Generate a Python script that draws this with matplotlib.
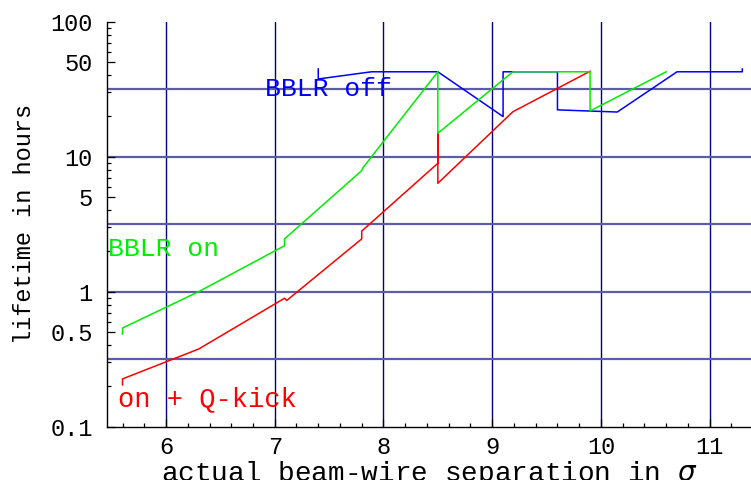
import numpy as np
import matplotlib
matplotlib.use('Agg')
import matplotlib.pyplot as plt
from matplotlib.ticker import FixedLocator, NullFormatter

plt.rcParams['font.family'] = ['Liberation Mono', 'DejaVu Sans']

# BBLR off
blue_x = [7.40, 7.40, 7.89, 8.50, 9.10, 9.10, 9.60, 9.60, 10.15, 10.70, 11.30, 11.30]
blue_y = [44.6, 37.6, 42.5, 42.5, 19.8, 42.5, 42.5, 22.2, 21.4, 42.5, 42.5, 44.6]

# BBLR on
green_x = [5.60, 5.60, 6.30, 7.09, 7.09, 7.80, 7.81, 8.50, 8.50, 9.19, 9.90, 9.90, 10.60]
green_y = [0.486, 0.538, 1.0, 2.19, 2.46, 7.88, 8.25, 42.5, 14.9, 42.5, 42.5, 21.8, 42.5]

# on + Q-kick
red_x = [5.60, 5.60, 6.30, 7.09, 7.11, 7.80, 7.80, 8.50, 8.50, 8.50, 9.19, 9.90]
red_y = [0.204, 0.226, 0.376, 0.894, 0.861, 2.46, 2.81, 8.93, 14.9, 6.35, 21.5, 42.9]

x_major = [6, 7, 8, 9, 10, 11]
y_major = [0.1, 0.5, 1, 5, 10, 50, 100]
y_labels = ['0.1', '0.5', '1', '5', '10', '50', '100']
h_grid = [10 ** -0.5, 1, 10 ** 0.5, 10, 10 ** 1.5]

fig = plt.figure(figsize=(7.51, 4.80), dpi=100)
ax = fig.add_axes([0.142, 0.111, 0.858, 0.844])

for gx in x_major:
    ax.axvline(gx, color='#000080', lw=1.0, zorder=1)
for gy in h_grid:
    ax.axhline(gy, color='#5c5ca8', lw=1.6, zorder=1)

ax.plot(blue_x, blue_y, color='#0000ff', lw=1.1, zorder=3)
ax.plot(red_x, red_y, color='#ff0000', lw=1.1, zorder=4)
ax.plot(green_x, green_y, color='#00ee00', lw=1.1, zorder=5)

ax.text(6.91, 31.5, 'BBLR off', color='#0000ff', fontsize=19, va='center', zorder=6)
ax.text(5.47, 2.06, 'BBLR on', color='#00ee00', fontsize=19, va='center', zorder=6)
ax.text(5.56, 0.16, 'on + Q-kick', color='#ff0000', fontsize=19.5, va='center', zorder=6)

ax.set_yscale('log')
ax.set_xlim(5.454, 11.38)
ax.set_ylim(0.1, 100)

ax.xaxis.set_major_locator(FixedLocator(x_major))
ax.xaxis.set_minor_locator(FixedLocator(np.arange(5.6, 11.4, 0.2)))
ax.yaxis.set_major_locator(FixedLocator(y_major))
ax.set_yticklabels(y_labels)
minor_y = [m * d for d in [0.1, 1, 10] for m in range(2, 10) if m != 5]
ax.yaxis.set_minor_locator(FixedLocator(minor_y))
ax.yaxis.set_minor_formatter(NullFormatter())

ax.tick_params(which='both', direction='in', labelsize=17, width=0.9, color='black')
ax.tick_params(which='major', length=6)
ax.tick_params(which='minor', length=3)
ax.tick_params(axis='y', which='major', pad=10)
ax.tick_params(axis='x', which='major', pad=7)

for s in ['top', 'right']:
    ax.spines[s].set_visible(False)
for s in ['left', 'bottom']:
    ax.spines[s].set_linewidth(1.0)

ax.set_xlabel('actual beam-wire separation in $\\sigma$', fontsize=20, labelpad=0)
ax.set_ylabel('lifetime in hours', fontsize=17, labelpad=10)

plt.savefig('out.png', dpi=100)
